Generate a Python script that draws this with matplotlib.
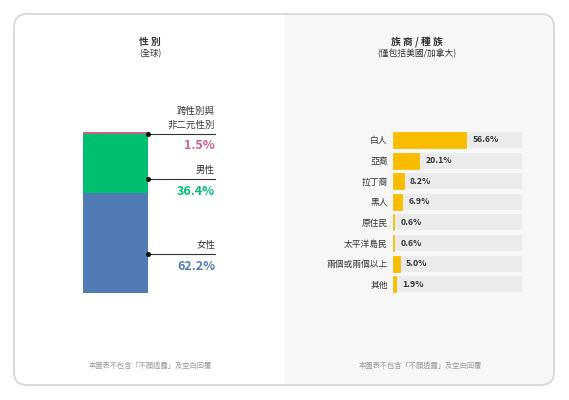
import matplotlib.pyplot as plt
from matplotlib.patches import FancyBboxPatch, Rectangle

plt.rcParams['font.family'] = ['Noto Sans CJK TC', 'DejaVu Sans']

# gender (global)
gender_labels = ['女性', '男性', '跨性別與\n非二元性別']
gender_values = [62.2, 36.4, 1.5]
gender_colors = ['#507bb5', '#00bf6f', '#cf5f8f']

# ethnicity / race (US / Canada only)
race_labels = ['白人', '亞裔', '拉丁裔', '黑人', '原住民', '太平洋島民', '兩個或兩個以上', '其他']
race_values = [56.6, 20.1, 8.2, 6.9, 0.6, 0.6, 5.0, 1.9]

W, H = 569, 400
fig = plt.figure(figsize=(W / 100, H / 100), dpi=100)
fig.patch.set_facecolor('white')


def px_axes(x0, y0, x1, y1, **kw):
    # axes placed by pixel box (top-left origin)
    return fig.add_axes([x0 / W, 1 - y1 / H, (x1 - x0) / W, (y1 - y0) / H], **kw)


# card background
bg = px_axes(0, 0, W, H)
bg.set_xlim(0, W)
bg.set_ylim(H, 0)
bg.axis('off')
card = FancyBboxPatch((14, 14), 540, 371, boxstyle='round,pad=0,rounding_size=13',
                      facecolor='#f7f7f7', edgecolor='none')
bg.add_patch(card)
left = Rectangle((0, 0), 285, H, facecolor='white', edgecolor='none')
bg.add_patch(left)
left.set_clip_path(card)
bg.add_patch(FancyBboxPatch((14, 14), 540, 371, boxstyle='round,pad=0,rounding_size=13',
                            facecolor='none', edgecolor='#d9d9d9', linewidth=1.4))

dark = '#333333'
bg.text(150, 42, '性 別', ha='center', va='center', fontsize=7, fontweight='bold', color=dark)
bg.text(150, 54, '(全球)', ha='center', va='center', fontsize=6, color=dark)
bg.text(417, 42, '族 裔 / 種 族', ha='center', va='center', fontsize=7, fontweight='bold', color=dark)
bg.text(417, 54, '(僅包括美國/加拿大)', ha='center', va='center', fontsize=6.3, color=dark)
note = '本圖表不包含「不願透露」及空白回覆'
bg.text(150, 366, note, ha='center', va='center', fontsize=5.2, color='#9a9a9a')
bg.text(420, 366, note, ha='center', va='center', fontsize=5.2, color='#9a9a9a')

# stacked gender bar
ax1 = px_axes(83, 132, 148, 293)
bottom = 0
for v, c in zip(gender_values, gender_colors):
    ax1.bar(0, v, width=1, bottom=bottom, color=c, align='edge', linewidth=0)
    bottom += v
ax1.set_xlim(0, 1)
ax1.set_ylim(0, sum(gender_values))
ax1.axis('off')

# label anchors (axes fraction) for female, male, trans/non-binary
anchor_y = [0.242, 0.708, 0.99]
line_end = (215 - 83) / 65
for lab, v, c, ay in zip(gender_labels, gender_values, gender_colors, anchor_y):
    ax1.plot([1, line_end], [ay, ay], transform=ax1.transAxes, color=dark,
             linewidth=0.8, clip_on=False)
    ax1.plot([1], [ay], 'o', transform=ax1.transAxes, color='#111111',
             markersize=2.6, clip_on=False)
    ax1.annotate(lab, (line_end, ay), xycoords='axes fraction', xytext=(0, 3),
                 textcoords='offset points', ha='right', va='bottom',
                 fontsize=6.8, color=dark, linespacing=1.6)
    ax1.annotate(f'{v}%', (line_end, ay), xycoords='axes fraction', xytext=(0, -4),
                 textcoords='offset points', ha='right', va='top',
                 fontsize=9, fontweight='bold', color=c)

# race bars
row = 20.6
ax2 = px_axes(393.3, 140 - row / 2, 521.7, 140 + row * 7.5)
ypos = list(range(len(race_labels)))
ax2.barh(ypos, [100] * len(ypos), height=0.78, color='#ebebeb', linewidth=0)
ax2.barh(ypos, race_values, height=0.78, color='#f9bd00', edgecolor='#f9bd00', linewidth=0.6)
for y, v in zip(ypos, race_values):
    ax2.annotate(f'{v:.1f}%', (v, y), xytext=(4.5, 0), textcoords='offset points',
                 ha='left', va='center', fontsize=6.2, fontweight='bold', color=dark)
ax2.set_xlim(0, 100)
ax2.set_ylim(len(ypos) - 0.5, -0.5)
ax2.set_yticks(ypos)
ax2.set_yticklabels(race_labels, fontsize=6.3, color=dark)
ax2.tick_params(axis='y', length=0, pad=4)
ax2.set_xticks([])
for s in ax2.spines.values():
    s.set_visible(False)
ax2.patch.set_alpha(0)

fig.savefig('out.png', dpi=100)
